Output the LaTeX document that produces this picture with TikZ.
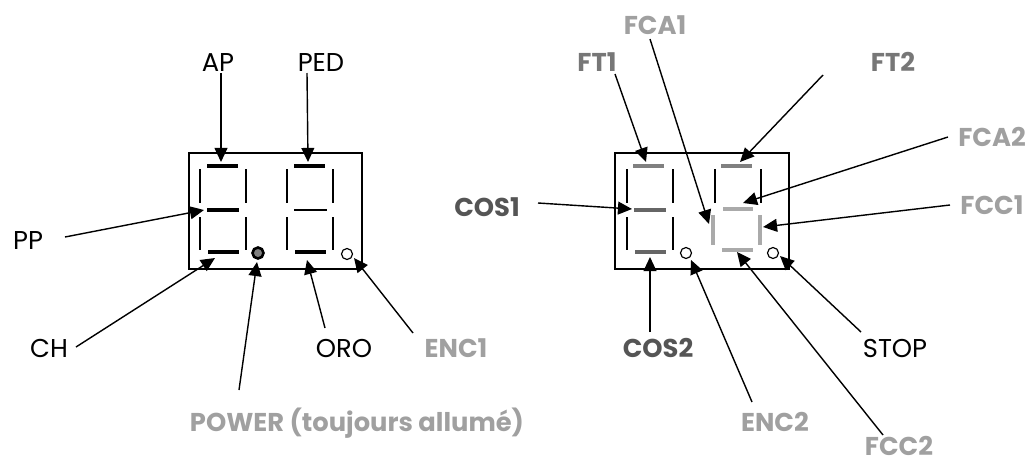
\documentclass[tikz,border=0pt]{standalone}
\usepackage{fontspec}
\setmainfont{Poppins}
\usetikzlibrary{calc,arrows.meta}

\definecolor{paleGrey}{HTML}{A0A0A0}
\definecolor{midGrey}{HTML}{777777}
\definecolor{darkGrey}{HTML}{555555}
\definecolor{segGrey}{HTML}{808080}
\definecolor{segDark}{HTML}{666666}
\definecolor{segPale}{HTML}{AAAAAA}

\tikzset{
  seg/.style={line width=3.4pt},
  thinseg/.style={line width=1.2pt},
  lbl/.style={font=\fontsize{22}{26}\selectfont, inner sep=0pt, text height=15.5pt, text depth=0pt},
  blbl/.style={lbl, font=\fontsize{22}{26}\selectfont\bfseries},
  pointer/.style={-{Triangle[length=12pt,width=11pt]}, line width=1.2pt},
}

\begin{document}
\begin{tikzpicture}[x=0.03cm,y=-0.03cm]
  \useasboundingbox (0,0) rectangle (1033,468);

  %% The two display boxes
  \draw[line width=1.6pt] (189,153) rectangle (362,269);
  \draw[line width=1.6pt] (615,153) rectangle (789,269);

  %% Thin vertical segments of the digits
  \foreach \o in {200,287,627,715}
  {
    \draw[thinseg] (\o,169) -- (\o,203);
    \draw[thinseg] (\o+46,169) -- (\o+46,203);
  }
  \foreach \o in {200,287,627}
  {
    \draw[thinseg] (\o,217) -- (\o,250);
    \draw[thinseg] (\o+46,217) -- (\o+46,250);
  }

  %% Lit segments, left display
  \draw[seg] (207,166) -- (238,166);
  \draw[seg] (207,210) -- (239,210);
  \draw[seg] (208,252) -- (239,252);
  \draw[seg] (294,166) -- (325,166);
  \draw[thinseg] (294,210) -- (327,210);
  \draw[seg] (295,252) -- (326,252);

  %% Lit segments, right display
  \draw[seg,segGrey] (633,166) -- (664,166);
  \draw[seg,segDark] (634,210) -- (666,210);
  \draw[seg,segDark] (635,252) -- (666,252);
  \draw[seg,segGrey] (721,166) -- (752,166);
  \draw[seg,segPale] (723,209) -- (753,209);
  \draw[seg,segPale] (713,215) -- (713,245);
  \draw[seg,segPale] (760,215) -- (760,245);
  \draw[seg,segPale] (722,250) -- (753,250);

  %% Dots
  \draw[line width=2.2pt, fill=segGrey] (258,253) circle (5.5);
  \draw[line width=1pt, fill=white] (347,254) circle (5.5);
  \draw[line width=1pt, fill=white] (686,253) circle (5.5);
  \draw[line width=1pt, fill=white] (773,253) circle (5.5);

  %% Targets of the pointers
  \coordinate (tAP) at (221,162);
  \coordinate (tPED) at (308,162);
  \coordinate (tPP) at (204,210);
  \coordinate (tCH) at (215,258);
  \coordinate (tPOWER) at (257,262);
  \coordinate (tORO) at (307,260);
  \coordinate (tENCa) at (354,258);
  \coordinate (tFTa) at (646,162);
  \coordinate (tFTb) at (740,162);
  \coordinate (tFCAa) at (709,224);
  \coordinate (tFCAb) at (743,203);
  \coordinate (tFCCa) at (763,227);
  \coordinate (tCOSa) at (632,209);
  \coordinate (tCOSb) at (650,257);
  \coordinate (tENCb) at (691,260);
  \coordinate (tFCCb) at (737,252);
  \coordinate (tSTOP) at (780,256);

  %% Labels
  \node[lbl] (AP) at (218,62) {AP};
  \node[lbl] (PED) at (321,62) {PED};
  \node[lbl] (PP) at (28,240) {PP};
  \node[lbl] (CH) at (49,348) {CH};
  \node[blbl,paleGrey] (POWER) at (357,422) {POWER (toujours allumé)};
  \node[lbl] (ORO) at (344,348) {ORO};
  \node[blbl,paleGrey] (ENCa) at (456,348) {ENC1};
  \node[blbl,paleGrey] (FCAa) at (655,25) {FCA1};
  \node[blbl,midGrey] (FTa) at (597,62) {FT1};
  \node[blbl,midGrey] (FTb) at (893,62) {FT2};
  \node[blbl,paleGrey] (FCAb) at (992,137) {FCA2};
  \node[blbl,paleGrey] (FCCa) at (992,205) {FCC1};
  \node[blbl,darkGrey] (COSa) at (487,207) {COS1};
  \node[blbl,darkGrey] (COSb) at (658,348) {COS2};
  \node[blbl,paleGrey] (ENCb) at (775,422) {ENC2};
  \node[blbl,paleGrey] (FCCb) at (899,446) {FCC2};
  \node[lbl] (STOP) at (895,348) {STOP};

  %% Pointers from the labels to the segments
  \foreach \n/\dx/\dy in {AP/3/11, PED/-14/11, PP/37/-3, CH/27/-1,
    POWER/-118/-32, ORO/-19/-20, ENCa/-43/-15, FCAa/-5/14, FTa/18/12,
    FTb/-70/13, FCAb/-44/0, FCCa/-42/0, COSa/51/-4, COSb/-8/-16,
    ENCb/-23/-20, FCCb/-16/-11, STOP/-34/-16}
  {
    \draw[pointer] ($(\n)+(\dx,\dy)$) -- (t\n);
  }
\end{tikzpicture}
\end{document}
